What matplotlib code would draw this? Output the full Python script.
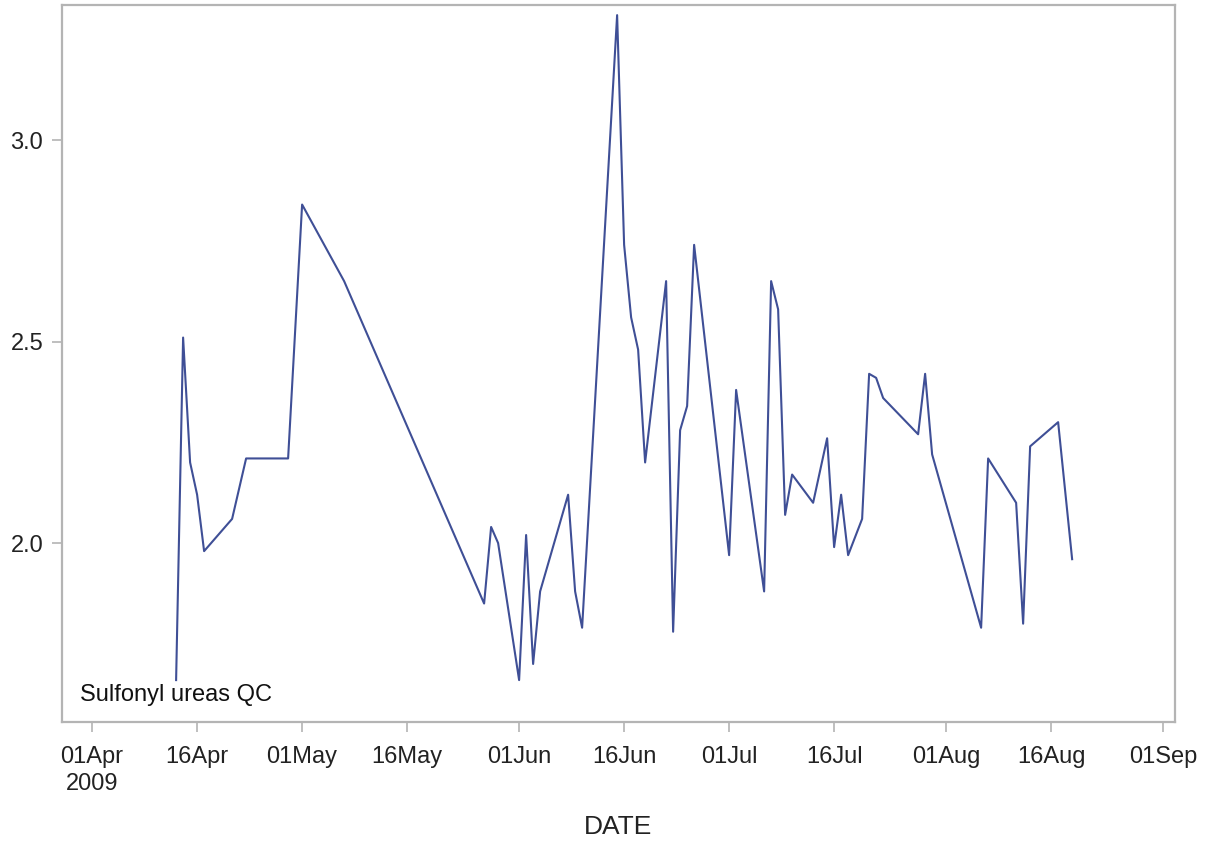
import datetime as dt
import matplotlib
matplotlib.use("Agg")
import matplotlib.pyplot as plt

# Data (2009)
dates = ["04-13", "04-14", "04-15", "04-16", "04-17", "04-21", "04-23", "04-29",
         "05-01", "05-07", "05-27", "05-28", "05-29", "06-01", "06-02", "06-03",
         "06-04", "06-08", "06-09", "06-10", "06-15", "06-16", "06-17", "06-18",
         "06-19", "06-22", "06-23", "06-24", "06-25", "06-26", "07-01", "07-02",
         "07-06", "07-07", "07-08", "07-09", "07-10", "07-13", "07-15", "07-16",
         "07-17", "07-18", "07-20", "07-21", "07-22", "07-23", "07-28", "07-29",
         "07-30", "08-06", "08-07", "08-11", "08-12", "08-13", "08-17", "08-19"]
values = [1.66, 2.51, 2.20, 2.12, 1.98, 2.06, 2.21, 2.21,
          2.84, 2.65, 1.85, 2.04, 2.00, 1.66, 2.02, 1.70,
          1.88, 2.12, 1.88, 1.79, 3.31, 2.74, 2.56, 2.48,
          2.20, 2.65, 1.78, 2.28, 2.34, 2.74, 1.97, 2.38,
          1.88, 2.65, 2.58, 2.07, 2.17, 2.10, 2.26, 1.99,
          2.12, 1.97, 2.06, 2.42, 2.41, 2.36, 2.27, 2.42,
          2.22, 1.79, 2.21, 2.10, 1.80, 2.24, 2.30, 1.96]

tick_dates = ["04-01", "04-16", "05-01", "05-16", "06-01", "06-16",
              "07-01", "07-16", "08-01", "08-16", "09-01"]
tick_labels = ["01Apr\n2009", "16Apr", "01May", "16May", "01Jun", "16Jun",
               "01Jul", "16Jul", "01Aug", "16Aug", "01Sep"]
y_ticks = [2.0, 2.5, 3.0]


def to_date(s):
    return dt.datetime.strptime("2009-" + s, "%Y-%m-%d")


plt.rcParams['font.family'] = ['Liberation Sans', 'DejaVu Sans']

x = [to_date(d) for d in dates]

fig = plt.figure(figsize=(12.11, 8.42), dpi=100)
ax = fig.add_axes([0.0512, 0.1425, 0.9191, 0.8515])

ax.plot(x, values, color="#3f4f96", lw=1.5)

ax.set_xlim(to_date("04-01") - dt.timedelta(days=4.3),
            to_date("09-01") + dt.timedelta(days=1.7))
ax.set_ylim(1.556, 3.335)

ax.set_xticks([to_date(d) for d in tick_dates])
ax.set_xticklabels(tick_labels, fontsize=17, color="#222222", linespacing=1.25)
ax.set_yticks(y_ticks)
ax.set_yticklabels([f"{v:.1f}" for v in y_ticks], fontsize=17, color="#222222")

for side in ax.spines.values():
    side.set_color("#b4b4b4")
    side.set_linewidth(1.6)
ax.tick_params(axis="both", direction="out", length=7.5, width=1.2,
               color="#b4b4b4")
ax.tick_params(axis="x", pad=10)
ax.tick_params(axis="y", pad=6)

ax.set_xlabel("DATE", fontsize=19, color="#222222", labelpad=15)

ax.text(0.016, 0.022, "Sulfonyl ureas QC", transform=ax.transAxes,
        fontsize=17, color="#111111", va="bottom", ha="left")

fig.savefig("out.png", dpi=100)
